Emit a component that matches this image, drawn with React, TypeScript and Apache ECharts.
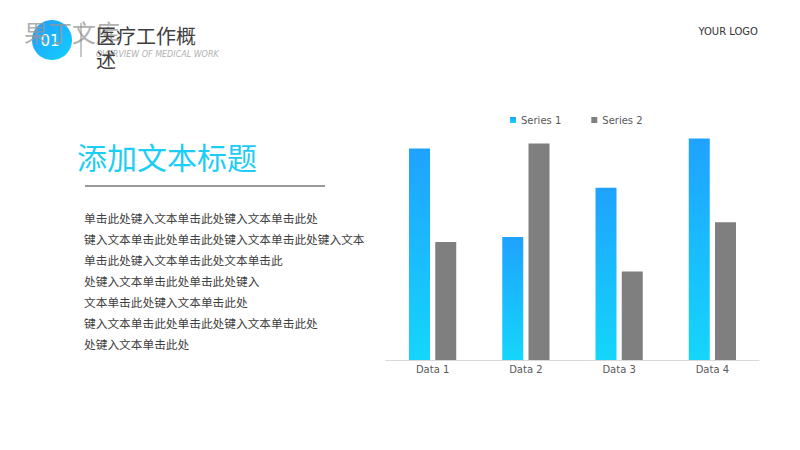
import React, { useEffect, useRef } from "react";
import * as echarts from "echarts";

const categories = ["Data 1", "Data 2", "Data 3", "Data 4"];
const series1 = [4.3, 2.5, 3.5, 4.5];
const series2 = [2.4, 4.4, 1.8, 2.8];
const seriesNames = ["Series 1", "Series 2"];
const bodyLines = [
  "单击此处键入文本单击此处键入文本单击此处",
  "键入文本单击此处单击此处键入文本单击此处键入文本",
  "单击此处键入文本单击此处文本单击此",
  "处键入文本单击此处单击此处键入",
  "文本单击此处键入文本单击此处",
  "键入文本单击此处单击此处键入文本单击此处",
  "处键入文本单击此处",
];

const CJK = '"Noto Sans CJK SC", "Noto Sans", sans-serif';
const LAT = '"DejaVu Sans", sans-serif';

export default function App() {
  const ref = useRef<HTMLDivElement>(null);
  useEffect(() => {
    if (!ref.current) return;
    const chart = echarts.init(ref.current, undefined, { renderer: "svg" });
    const blueGrad = new echarts.graphic.LinearGradient(0, 0, 0, 1, [
      { offset: 0, color: "#1fa2ff" },
      { offset: 1, color: "#14d6fb" },
    ]);
    const circleGrad = new echarts.graphic.LinearGradient(0, 0, 1, 1, [
      { offset: 0, color: "#1f9cff" },
      { offset: 1, color: "#14d0fb" },
    ]);
    const graphics: any[] = [
      { type: "circle", shape: { cx: 52, cy: 40, r: 20 }, style: { fill: circleGrad } },
      {
        type: "text", x: 50, y: 41,
        style: { text: "01", fill: "#ffffff", font: `15px ${LAT}`, textAlign: "center", textVerticalAlign: "middle" },
      },
      {
        type: "text", x: 24, y: 31,
        style: { text: "果丁文库", fill: "rgba(150,150,150,0.75)", font: `24px ${CJK}`, textVerticalAlign: "middle" },
      },
      { type: "line", shape: { x1: 81, y1: 23, x2: 81, y2: 57 }, style: { stroke: "#8c8c8c", lineWidth: 1 } },
      {
        type: "text", x: 96, y: 54,
        style: { text: "OVERVIEW OF MEDICAL WORK", fill: "#b0b0b0", font: `italic 8px ${LAT}`, textVerticalAlign: "middle" },
      },
      {
        type: "text", x: 96, y: 35,
        style: { text: "医疗工作概", fill: "#404040", font: `20px ${CJK}`, textVerticalAlign: "middle" },
      },
      {
        type: "text", x: 96, y: 59,
        style: { text: "述", fill: "#404040", font: `20px ${CJK}`, textVerticalAlign: "middle" },
      },
      {
        type: "text", x: 758, y: 31,
        style: { text: "YOUR LOGO", fill: "#333333", font: `10px ${LAT}`, textAlign: "right", textVerticalAlign: "middle" },
      },
      {
        type: "text", x: 77, y: 156,
        style: { text: "添加文本标题", fill: "#1ccdf6", font: `30px ${CJK}`, textVerticalAlign: "middle" },
      },
      { type: "rect", shape: { x: 85, y: 185, width: 240, height: 2 }, style: { fill: "#999999" } },
      ...bodyLines.map((t, i) => ({
        type: "text", x: 84, y: 217 + i * 21,
        style: { text: t, fill: "#404040", font: `11.7px ${CJK}`, textVerticalAlign: "middle" },
      })),
    ];
    chart.setOption({
      animation: false,
      graphic: graphics,
      legend: {
        data: seriesNames,
        left: 505,
        top: 110,
        itemWidth: 6,
        itemHeight: 6,
        itemGap: 30,
        icon: "rect",
        textStyle: { color: "#595959", fontSize: 10, fontFamily: LAT },
      },
      grid: { left: 386, right: 41, top: 114, bottom: 90 },
      xAxis: {
        type: "category",
        data: categories,
        axisLine: { lineStyle: { color: "#d9d9d9" } },
        axisTick: { show: false },
        axisLabel: { color: "#595959", fontSize: 10, fontFamily: LAT, margin: 4 },
      },
      yAxis: { type: "value", min: 0, max: 5, show: false, splitLine: { show: false } },
      series: [
        {
          name: seriesNames[0], type: "bar", data: series1, barWidth: 21, barGap: "25%",
          itemStyle: { color: blueGrad },
        },
        {
          name: seriesNames[1], type: "bar", data: series2, barWidth: 21,
          itemStyle: { color: "#7f7f7f" },
        },
      ],
    });
    return () => chart.dispose();
  }, []);
  return <div ref={ref} style={{ width: 800, height: 450, position: "absolute", left: 0, top: 0 }} />;
}
